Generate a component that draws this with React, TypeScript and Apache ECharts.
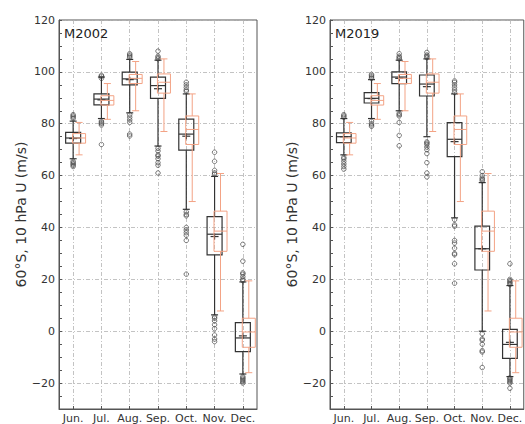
import React, { useEffect, useRef } from "react";
import * as echarts from "echarts";

const months = ["Jun.", "Jul.", "Aug.", "Sep.", "Oct.", "Nov.", "Dec."];

// [lower whisker, Q1, median, Q3, upper whisker]
const m2002Stats = [
  [66.5, 72.5, 74.5, 76.7, 81],
  [82, 87.3, 89.5, 91.5, 98],
  [84.2, 95.0, 97.3, 99.9, 104.8],
  [71.4, 89.8, 94.7, 98, 104.5],
  [47, 69.8, 76, 81.8, 91.5],
  [6.3, 29.4, 37.4, 44.2, 59.7],
  [-16.5, -7.9, -2.6, 3.3, 19],
];
const m2002Means = [74.3, 89.2, 97, 93.5, 75.2, 36.5, -1.8];
const m2002Fliers = [
  [82, 82.5, 83, 83.5, 65.5, 65, 64.5, 64, 63.5],
  [97.5, 98.3, 98.7, 81, 80.5, 80, 79.5, 72],
  [105.5, 106, 106.5, 107, 83.5, 82.5, 81.5, 80.5, 76, 75.3],
  [105, 105.5, 106, 108, 70.5, 69.5, 68, 67.5, 66.5, 65, 64, 61],
  [92.5, 93, 94, 95, 96, 46, 45, 44.5, 40, 39, 38, 37, 35, 22],
  [60.5, 61, 62, 65.5, 69, 5.5, 5, 4, 2.5, 1, -1.5, -3, -4],
  [19.5, 20, 21, 22, 22.5, 27, 33.5, -17.5, -18, -18.5, -19, -19.5, -20],
];

const m2019Stats = [
  [68, 72.7, 75, 76.5, 82],
  [82, 88, 89.8, 92, 97],
  [85, 95.5, 98, 100, 104.5],
  [75, 90.7, 95.3, 98.8, 105],
  [43.7, 67.3, 74, 80.4, 91.5],
  [0, 23.6, 31.8, 40.5, 57.3],
  [-17.5, -10.5, -5.1, 0.7, 17.6],
];
const m2019Means = [75, 89.7, 97.5, 94.3, 73.1, 31.8, -4.3];
const m2019Fliers = [
  [82.5, 83, 83.5, 67, 66.5, 65.5, 64.5, 63.5, 62.5],
  [97.5, 98, 98.5, 99, 81, 80, 79.5, 79],
  [105, 105.5, 106, 107, 84, 83.5, 83, 80.5, 75.5, 71.5],
  [105.5, 106, 106.5, 107.5, 73, 72.5, 72, 71, 70, 68.5, 65, 61, 59.5],
  [92, 93, 94, 95, 96, 96.5, 43, 41, 40.5, 35, 34, 32, 30, 29.5, 26, 18.5],
  [58, 58.5, 59, 60, 61.5, -1, -3, -3.5, -5, -7.5, -8, -14],
  [18, 18.5, 19, 19.5, 20, 26, -18, -18.5, -19, -19.5, -20, -22],
];

const obsStats = [
  [68, 72.5, 74.5, 76.2, 80.5],
  [81.7, 87.2, 89, 90.8, 95.5],
  [85, 95.5, 97.5, 99, 104],
  [77, 91.8, 96, 99.2, 105],
  [50, 72, 77.8, 83, 91.5],
  [7.8, 30.8, 38.6, 46.3, 60.8],
  [-16, -6.2, -0.3, 5, 19.4],
];

const panelTitles = ["M2002", "M2019"];
const yName = "60°S, 10 hPa U (m/s)";

const BLACK = "#333333";
const ORANGE = "#f3a385";
const GRIDC = "#b4b4b4";
const FONT = "DejaVu Sans";

function makeBoxRenderer(color: string, widthFrac: number, offsetFrac: number, showMean: boolean, lw: number) {
  return (params: any, api: any) => {
    const i = api.value(0);
    const band = api.size([1, 0])[0];
    const cx = api.coord([i, api.value(3)])[0] + offsetFrac * band;
    const y = (k: number) => api.coord([i, api.value(k)])[1];
    const yLow = y(1), yQ1 = y(2), yMed = y(3), yQ3 = y(4), yHigh = y(5);
    const hw = (widthFrac * band) / 2;
    const cap = 3.5;
    const st = { stroke: color, lineWidth: lw };
    const children: any[] = [
      { type: "line", shape: { x1: cx, y1: yLow, x2: cx, y2: yQ1 }, style: st },
      { type: "line", shape: { x1: cx, y1: yQ3, x2: cx, y2: yHigh }, style: st },
      { type: "line", shape: { x1: cx - cap, y1: yLow, x2: cx + cap, y2: yLow }, style: st },
      { type: "line", shape: { x1: cx - cap, y1: yHigh, x2: cx + cap, y2: yHigh }, style: st },
      { type: "rect", shape: { x: cx - hw, y: yQ3, width: 2 * hw, height: yQ1 - yQ3 }, style: { fill: "transparent", stroke: color, lineWidth: lw } },
      { type: "line", shape: { x1: cx - hw, y1: yMed, x2: cx + hw, y2: yMed }, style: st },
    ];
    if (showMean) {
      const ym = y(6);
      children.push(
        { type: "line", shape: { x1: cx - 4, y1: ym, x2: cx + 4, y2: ym }, style: { stroke: color, lineWidth: 1.2 } },
        { type: "line", shape: { x1: cx, y1: ym - 3, x2: cx, y2: ym + 3 }, style: { stroke: color, lineWidth: 1.2 } }
      );
    }
    return { type: "group", children };
  };
}

function buildOption() {
  const grids = [
    { left: 59, top: 20, width: 198, height: 391 },
    { left: 330, top: 20, width: 198, height: 391 },
  ].map((g) => ({ ...g, show: true, borderColor: "#555", borderWidth: 1, backgroundColor: "transparent" }));

  const xAxes = [0, 1].map((gi) => ({
    gridIndex: gi,
    type: "category",
    data: months,
    boundaryGap: true,
    axisLine: { show: true, onZero: false, lineStyle: { color: "#555", width: 1 } },
    axisTick: { show: true, inside: true, alignWithLabel: true, length: 3, lineStyle: { color: "#555" } },
    axisLabel: { interval: 0, fontSize: 11, color: "#333", margin: 4, fontFamily: FONT },
    splitLine: { show: true, alignWithLabel: true, lineStyle: { color: GRIDC, type: [4, 2, 1, 2], width: 0.8 } },
  }));

  const yAxes = [0, 1].map((gi) => ({
    gridIndex: gi,
    type: "value",
    min: -30,
    max: 120,
    interval: 5,
    name: yName,
    nameLocation: "middle",
    nameGap: 30,
    nameTextStyle: { fontSize: 14, color: "#333", fontFamily: FONT },
    axisLine: { show: true, onZero: false, lineStyle: { color: "#555", width: 1 } },
    axisTick: { show: true, inside: true, length: 3, lineStyle: { color: "#555" } },
    axisLabel: {
      fontSize: 11,
      color: "#333",
      margin: 4,
      fontFamily: FONT,
      formatter: (v: number) => (v % 20 === 0 ? (v < 0 ? "\u2212" + Math.abs(v) : String(v)) : ""),
    },
    splitLine: {
      show: true,
      lineStyle: { color: ["rgba(0,0,0,0)", "rgba(0,0,0,0)", GRIDC, "rgba(0,0,0,0)"], type: [4, 2, 1, 2], width: 0.8 },
    },
  }));

  const panels = [
    { stats: m2002Stats, means: m2002Means, fliers: m2002Fliers },
    { stats: m2019Stats, means: m2019Means, fliers: m2019Fliers },
  ];

  const series: any[] = [];
  panels.forEach((p, gi) => {
    series.push({
      type: "scatter",
      xAxisIndex: gi,
      yAxisIndex: gi,
      symbol: "circle",
      symbolSize: 4.5,
      itemStyle: { color: "transparent", borderColor: "#444", borderWidth: 0.9 },
      data: p.fliers.flatMap((arr, i) => arr.map((v) => [i, v])),
      z: 2,
    });
    series.push({
      type: "custom",
      xAxisIndex: gi,
      yAxisIndex: gi,
      renderItem: makeBoxRenderer(BLACK, 0.53, 0, true, 1.2),
      encode: { x: 0, y: [1, 2, 3, 4, 5] },
      data: p.stats.map((s, i) => [i, ...s, p.means[i]]),
      z: 3,
    });
    series.push({
      type: "custom",
      xAxisIndex: gi,
      yAxisIndex: gi,
      renderItem: makeBoxRenderer(ORANGE, 0.46, 0.21, false, 1),
      encode: { x: 0, y: [1, 2, 3, 4, 5] },
      data: obsStats.map((s, i) => [i, ...s]),
      z: 4,
    });
  });

  return {
    animation: false,
    textStyle: { fontFamily: FONT },
    title: panelTitles.map((t, gi) => ({
      text: t,
      left: gi === 0 ? 59 : 330,
      top: 22,
      textStyle: { fontSize: 13, fontWeight: "normal", color: "#222", fontFamily: FONT },
    })),
    grid: grids,
    xAxis: xAxes,
    yAxis: yAxes,
    series,
  };
}

export default function App() {
  const ref = useRef<HTMLDivElement>(null);
  useEffect(() => {
    if (!ref.current) return;
    const chart = echarts.init(ref.current, undefined, { renderer: "svg" });
    chart.setOption(buildOption() as any);
    return () => chart.dispose();
  }, []);
  return (
    <div
      ref={ref}
      style={{ position: "fixed", left: 0, top: 0, width: 525, height: 424, background: "#fff" }}
    />
  );
}
